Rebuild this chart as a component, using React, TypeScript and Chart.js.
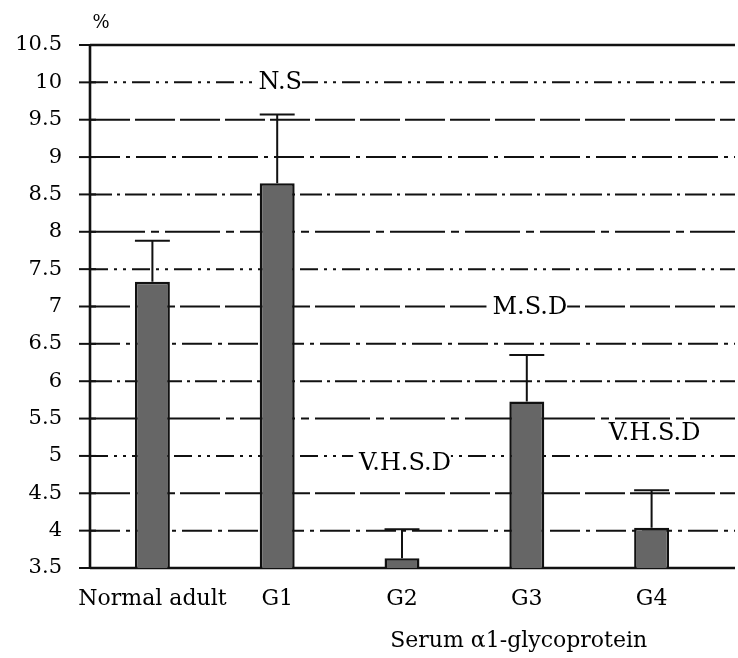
import { useEffect, useRef } from 'react';
import { Chart, registerables } from 'chart.js';

Chart.register(...registerables);

const categories = ['Normal adult', 'G1', 'G2', 'G3', 'G4'];
const means = [7.33, 8.65, 3.63, 5.73, 4.04];
const errors = [0.55, 0.92, 0.39, 0.62, 0.5];
const yTicks = [3.5, 4, 4.5, 5, 5.5, 6, 6.5, 7, 7.5, 8, 8.5, 9, 9.5, 10, 10.5];
const yTickLabels = ['3.5', '4', '4.5', '5', '5.5', '6', '6.5', '7', '7.5', '8', '8.5', '9', '9.5', '10', '10.5'];
const annotationLabels = ['', 'N.S', 'V.H.S.D', 'M.S.D', 'V.H.S.D'];
const annotationValues = [null, 10, 4.9, 6.98, 5.3];
const yUnit = '%';
const xTitle = 'Serum \u03b11-glycoprotein';

const FONT = '"DejaVu Serif", "Liberation Serif", serif';
const gridDashes = [
  [22, 5, 3, 5],
  [30, 6, 4, 6],
  [40, 5],
  [18, 6, 3, 6, 3, 6],
  [55, 6, 8, 6],
];

const chartDecor = {
  id: 'chartDecor',
  beforeDatasetsDraw(chart: any) {
    const { ctx, chartArea, scales } = chart;
    const { left, right, top, bottom } = chartArea;
    const y = scales.y;
    const ext = right + 21;
    ctx.save();
    ctx.strokeStyle = '#111';
    yTicks.forEach((v, i) => {
      const py = y.getPixelForValue(v);
      ctx.setLineDash([]);
      ctx.lineWidth = 2;
      ctx.beginPath();
      ctx.moveTo(left - 11, py);
      ctx.lineTo(left + 6, py);
      ctx.stroke();
      const edge = i === 0 || i === yTicks.length - 1;
      ctx.lineWidth = edge ? 2.4 : 2;
      ctx.setLineDash(edge ? [] : gridDashes[i % gridDashes.length]);
      ctx.beginPath();
      ctx.moveTo(left, py);
      ctx.lineTo(ext, py);
      ctx.stroke();
    });
    ctx.setLineDash([]);
    ctx.lineWidth = 2.6;
    ctx.beginPath();
    ctx.moveTo(left, top);
    ctx.lineTo(left, bottom + 1);
    ctx.stroke();
    ctx.restore();
  },
  afterDatasetsDraw(chart: any) {
    const { ctx, scales } = chart;
    const y = scales.y;
    const meta = chart.getDatasetMeta(0);
    ctx.save();
    ctx.strokeStyle = '#111';
    ctx.lineWidth = 2;
    meta.data.forEach((bar: any, i: number) => {
      const x = bar.x;
      const yTop = y.getPixelForValue(means[i] + errors[i]);
      const half = bar.width / 2;
      ctx.beginPath();
      ctx.moveTo(x, bar.y);
      ctx.lineTo(x, yTop);
      ctx.moveTo(x - half, yTop);
      ctx.lineTo(x + half, yTop);
      ctx.stroke();
    });
    ctx.font = `24px ${FONT}`;
    ctx.textAlign = 'center';
    ctx.textBaseline = 'middle';
    meta.data.forEach((bar: any, i: number) => {
      const label = annotationLabels[i];
      const val = annotationValues[i];
      if (!label || val === null) return;
      const py = y.getPixelForValue(val);
      const w = ctx.measureText(label).width;
      ctx.fillStyle = '#ffffff';
      ctx.fillRect(bar.x - w / 2 - 3, py - 10, w + 6, 20);
      ctx.fillStyle = '#000';
      ctx.fillText(label, bar.x + 3, py);
    });
    ctx.restore();
  },
  afterDraw(chart: any) {
    const { ctx, chartArea } = chart;
    const { left, right, top } = chartArea;
    ctx.save();
    ctx.fillStyle = '#000';
    ctx.textAlign = 'center';
    ctx.textBaseline = 'middle';
    ctx.font = `18px ${FONT}`;
    ctx.fillText(yUnit, left + 11, top - 22);
    ctx.font = `22px ${FONT}`;
    ctx.fillText(xTitle, left + (right - left) * 0.687, chart.height - 17);
    ctx.restore();
  },
};

export default function App() {
  const ref = useRef<HTMLCanvasElement>(null);
  useEffect(() => {
    if (!ref.current) return;
    Chart.defaults.font.family = FONT;
    const chart = new Chart(ref.current, {
      type: 'bar',
      data: {
        labels: categories,
        datasets: [
          {
            data: means,
            backgroundColor: '#666666',
            borderColor: '#111111',
            borderWidth: 2.5,
            barPercentage: 0.28,
            categoryPercentage: 1,
          },
        ],
      },
      options: {
        responsive: false,
        animation: false,
        layout: { padding: { left: 0, top: 45, right: 24, bottom: 0 } },
        plugins: { legend: { display: false }, tooltip: { enabled: false } },
        scales: {
          x: {
            grid: { display: false, drawTicks: false },
            border: { display: false },
            ticks: { font: { size: 22, family: FONT }, color: '#000', padding: 18, maxRotation: 0, autoSkip: false },
            afterFit: (s: any) => {
              s.height = 90;
            },
          },
          y: {
            min: 3.5,
            max: 10.5,
            grid: { display: false, drawTicks: false },
            border: { display: false },
            afterBuildTicks: (s: any) => {
              s.ticks = yTicks.map((v) => ({ value: v }));
            },
            ticks: {
              font: { size: 21, family: FONT },
              color: '#000',
              padding: 28,
              callback: (_v: any, i: number) => yTickLabels[i],
            },
            afterFit: (s: any) => {
              s.width = 90;
            },
          },
        },
      },
      plugins: [chartDecor],
    });
    return () => chart.destroy();
  }, []);
  return (
    <div style={{ position: 'fixed', left: 0, top: 0, width: 738, height: 658, background: '#fff' }}>
      <canvas ref={ref} width={738} height={658} />
    </div>
  );
}
